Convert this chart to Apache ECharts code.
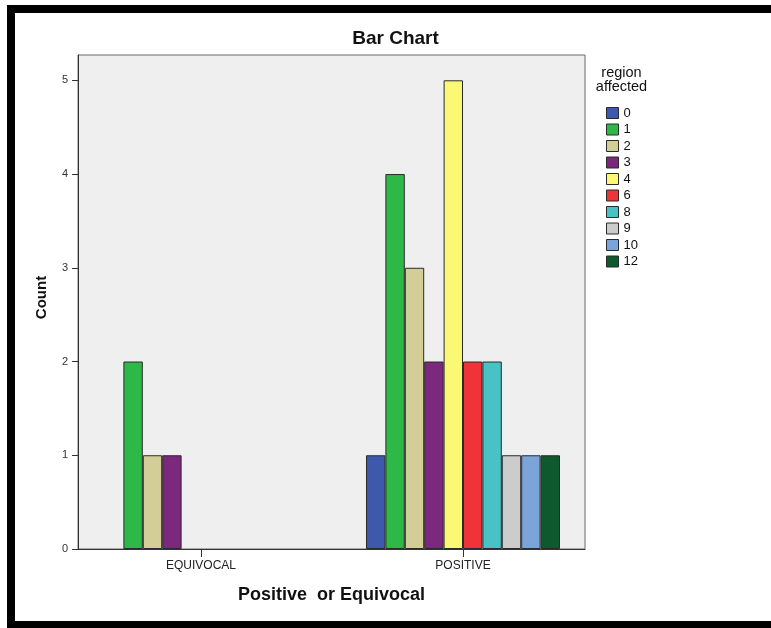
<!DOCTYPE html>
<html>
<head>
<meta charset="utf-8">
<script src="https://cdn.jsdelivr.net/npm/echarts@6/dist/echarts.min.js"></script>
<style>
html,body{margin:0;padding:0;background:#fff;}
#chart{width:771px;height:628px;}
</style>
</head>
<body>
<div id="chart"></div>
<script>
const categories = ['EQUIVOCAL', 'POSITIVE'];
const regions = ['0', '1', '2', '3', '4', '6', '8', '9', '10', '12'];
const equivocalCounts = [null, 2, 1, 1, null, null, null, null, null, null];
const positiveCounts = [1, 4, 3, 2, 5, 2, 2, 1, 1, 1];
const yTicks = [0, 1, 2, 3, 4, 5];
const palette = ['#3e58ac', '#2eb848', '#d3ce97', '#7b287d', '#fbf873', '#ef3338', '#48c2c5', '#cccccc', '#7ba4d9', '#0e5a2e'];

const FONT = "'Liberation Sans', Arial, sans-serif";
const yMax = 5.27;

const series = regions.map((r, i) => ({
  name: r,
  type: 'bar',
  xAxisIndex: 1,
  yAxisIndex: 1,
  barWidth: 19.4,
  barGap: '0%',
  data: [equivocalCounts[i], positiveCounts[i]],
  itemStyle: { color: palette[i], borderColor: '#2a2a2a', borderWidth: 1 }
}));

const chart = echarts.init(document.getElementById('chart'), null, { renderer: 'canvas' });
chart.setOption({
  animation: false,
  backgroundColor: '#ffffff',
  textStyle: { fontFamily: FONT },
  grid: [
    { left: 78, top: 55, width: 507, height: 494, show: true, backgroundColor: '#efefef', borderColor: '#6a6a6a', borderWidth: 1, containLabel: false },
    { left: 70, top: 55, width: 524, height: 494, containLabel: false }
  ],
  xAxis: [
    { gridIndex: 0, type: 'category', data: categories,
      axisLine: { show: true, lineStyle: { color: '#333', width: 1 } },
      axisTick: { show: false }, axisLabel: { show: false }, splitLine: { show: false } },
    { gridIndex: 1, type: 'category', data: categories,
      axisLine: { show: false },
      axisTick: { show: true, alignWithLabel: true, length: 8, lineStyle: { color: '#333' } },
      axisLabel: { show: true, margin: 11, fontSize: 12, color: '#222', fontFamily: FONT },
      splitLine: { show: false } }
  ],
  yAxis: [
    { gridIndex: 0, type: 'value', min: 0, max: yMax, interval: 1,
      axisLine: { show: true, lineStyle: { color: '#333', width: 1 } },
      axisTick: { show: true, length: 6, customValues: yTicks, lineStyle: { color: '#333' } },
      axisLabel: { show: true, margin: 10, fontSize: 11, color: '#333', fontFamily: FONT, customValues: yTicks },
      splitLine: { show: false } },
    { gridIndex: 1, type: 'value', min: 0, max: yMax, show: false, splitLine: { show: false } }
  ],
  legend: {
    orient: 'vertical',
    left: 606,
    top: 106.5,
    padding: 0,
    icon: 'rect',
    itemWidth: 12,
    itemHeight: 11,
    itemGap: 3.5,
    data: regions,
    textStyle: { fontSize: 13, color: '#111', fontFamily: FONT, lineHeight: 11 },
    itemStyle: { borderColor: '#2a2a2a', borderWidth: 1 },
    selectedMode: false
  },
  series: series,
  graphic: [
    { type: 'rect', shape: { x: 11, y: 9, width: 800, height: 616 }, style: { fill: null, stroke: '#000', lineWidth: 8 }, z: 100 },
    { type: 'text', x: 395.5, y: 39, style: { text: 'Bar Chart', font: 'bold 19px ' + FONT, fill: '#111', align: 'center', verticalAlign: 'middle' } },
    { type: 'text', x: 621.5, y: 73, style: { text: 'region', font: '14.5px ' + FONT, fill: '#111', align: 'center', verticalAlign: 'middle' } },
    { type: 'text', x: 621.5, y: 87, style: { text: 'affected', font: '14.5px ' + FONT, fill: '#111', align: 'center', verticalAlign: 'middle' } },
    { type: 'text', x: 42, y: 297.5, rotation: Math.PI / 2, style: { text: 'Count', font: 'bold 15px ' + FONT, fill: '#111', align: 'center', verticalAlign: 'middle' } },
    { type: 'text', x: 331.5, y: 595, style: { text: 'Positive  or Equivocal', font: 'bold 18px ' + FONT, fill: '#111', align: 'center', verticalAlign: 'middle' } }
  ]
});
</script>
</body>
</html>
